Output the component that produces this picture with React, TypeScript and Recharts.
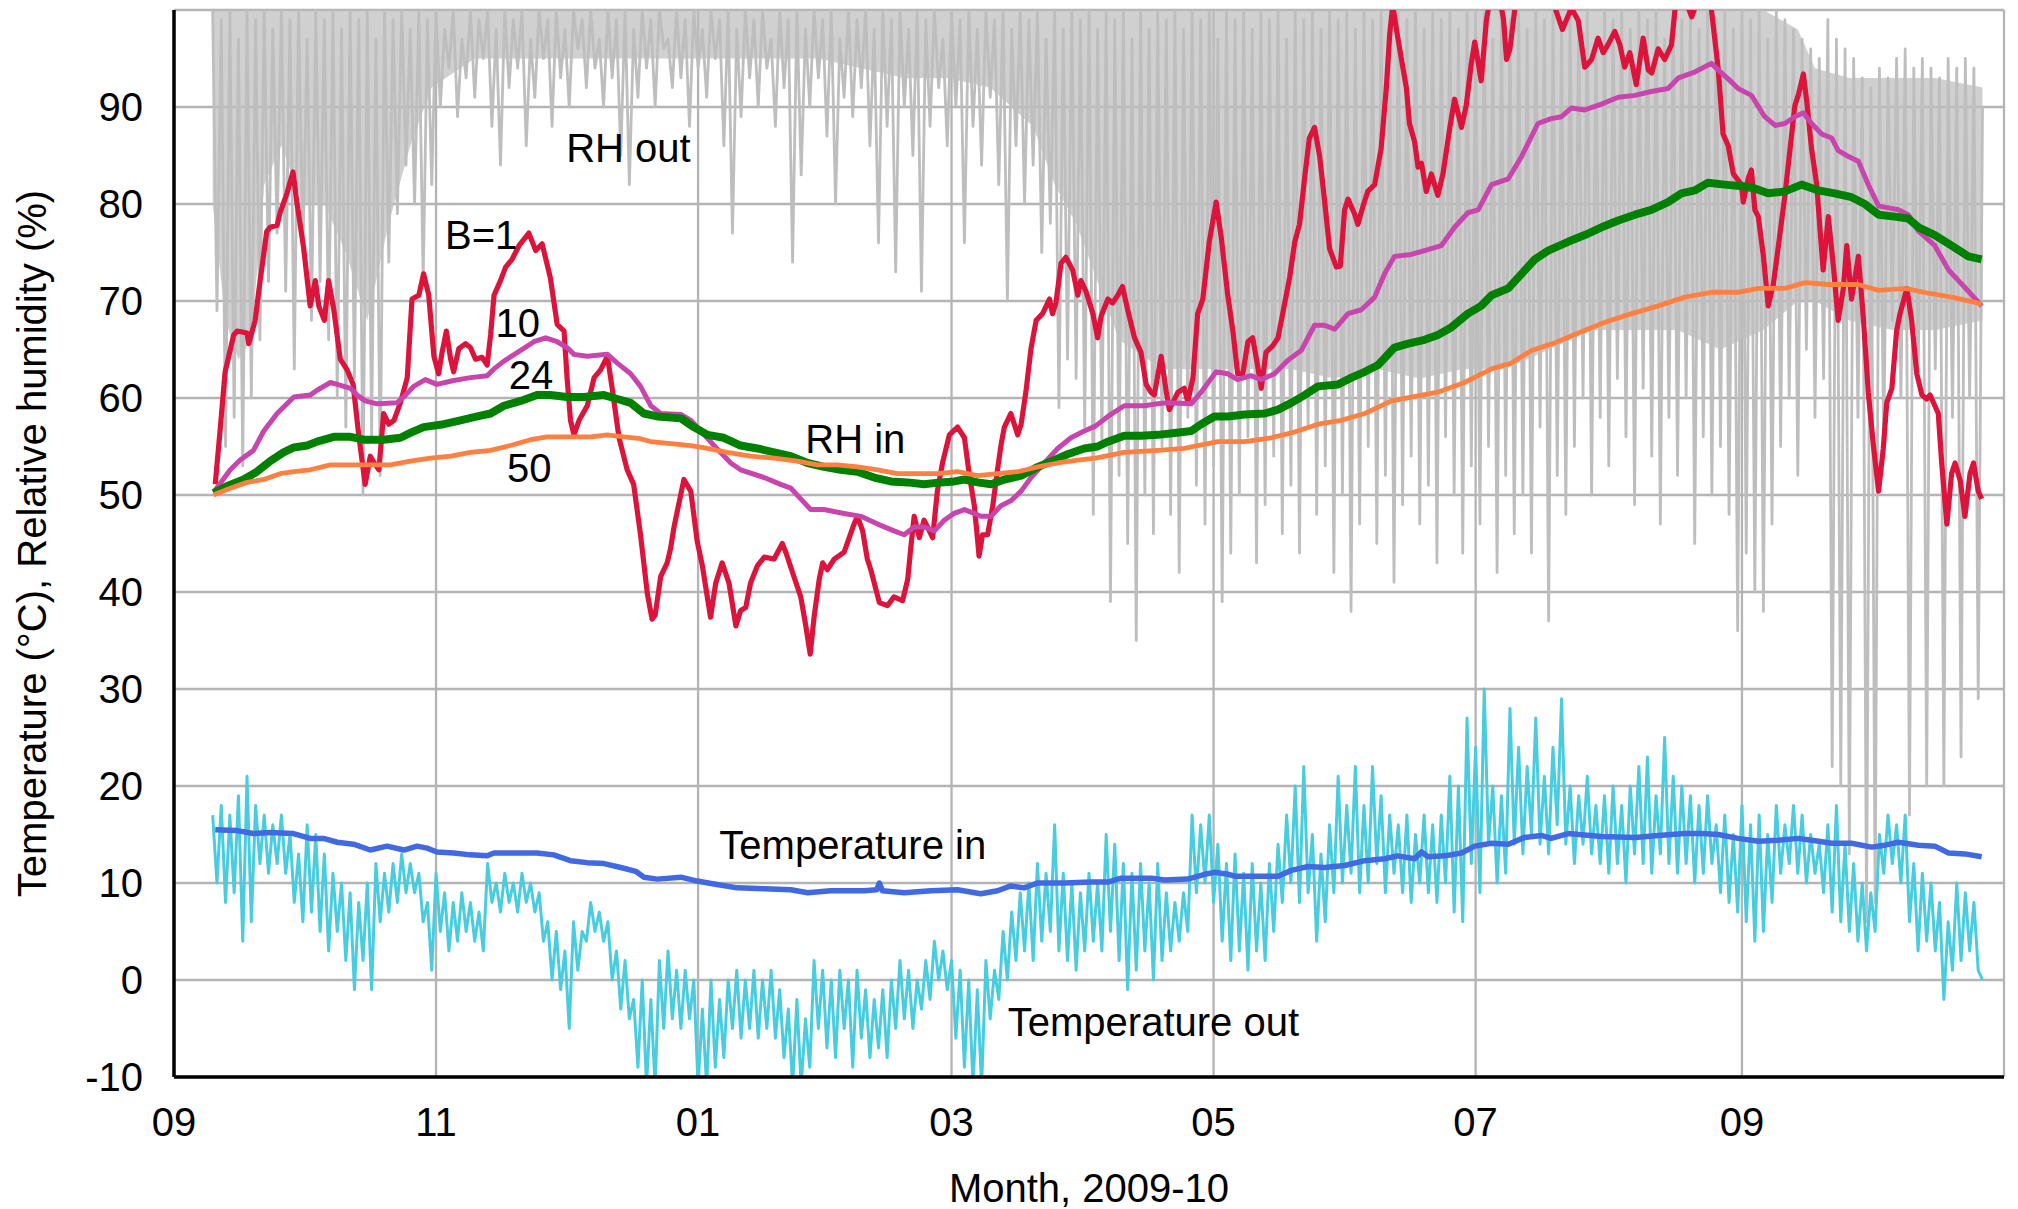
import React from 'react';
import { ComposedChart, Line, Area, XAxis, YAxis, CartesianGrid, ReferenceDot, Label } from 'recharts';

const FONT = '"Liberation Sans", Arial, Helvetica, sans-serif';

// x axis: days since 2009-09-01
const MONTH_TICKS = [0, 61, 122, 181, 242, 303, 365];
const MONTH_LABELS = ['09', '11', '01', '03', '05', '07', '09'];
const X_DOMAIN: [number, number] = [0, 426];
const VALUE_TICKS = [-10, 0, 10, 20, 30, 40, 50, 60, 70, 80, 90];
const Y_DOMAIN: [number, number] = [-10, 100];

// Outdoor relative humidity (daily alternating highs / lows), first value at day 9
const RH_OUT_FIRST_DAY = 9;
const RH_OUT = [
  100, 69, 99, 55, 100, 58, 97, 53, 100, 60,
  99, 66, 100, 72, 98, 77, 100, 71, 99, 63,
  100, 75, 97, 68, 100, 72, 99, 66, 100, 60,
  98, 57, 100, 62, 99, 50, 100, 56, 97, 52,
  100, 74, 99, 79, 100, 84, 98, 80, 100, 72,
  99, 82, 100, 90, 98, 94, 100, 89, 97, 93,
  100, 91, 99, 95, 100, 88, 98, 84, 100, 92,
  99, 94, 100, 86, 97, 91, 100, 95, 99, 88,
  100, 93, 98, 90, 100, 96, 99, 92, 100, 94,
  97, 90, 100, 93, 99, 85, 100, 82, 98, 91,
  100, 94, 99, 90, 100, 96, 97, 92, 100, 93,
  99, 88, 100, 94, 98, 91, 100, 95, 99, 86,
  100, 77, 98, 89, 100, 93, 99, 90, 100, 94,
  97, 88, 100, 92, 99, 74, 100, 83, 98, 90,
  100, 93, 99, 87, 100, 80, 97, 91, 100, 89,
  99, 92, 100, 86, 98, 76, 100, 88, 99, 73,
  100, 90, 98, 85, 100, 71, 99, 88, 100, 92,
  97, 86, 100, 90, 99, 76, 100, 88, 98, 84,
  100, 91, 99, 82, 100, 70, 98, 86, 100, 80,
  99, 84, 100, 75, 97, 78, 100, 59, 98, 64,
  100, 62, 99, 57, 100, 48, 98, 55, 100, 39,
  99, 52, 100, 45, 97, 35, 100, 50, 98, 46,
  100, 55, 99, 48, 100, 42, 98, 58, 100, 51,
  99, 47, 100, 53, 97, 39, 100, 44, 99, 50,
  100, 56, 98, 43, 100, 49, 99, 54, 100, 46,
  97, 51, 100, 44, 99, 57, 100, 48, 98, 53,
  100, 42, 99, 50, 100, 38, 98, 47, 100, 55,
  99, 45, 100, 52, 97, 41, 100, 49, 99, 54,
  100, 47, 98, 51, 100, 43, 99, 56, 100, 50,
  98, 44, 100, 53, 99, 47, 100, 55, 97, 42,
  100, 52, 99, 46, 100, 50, 98, 44, 100, 57,
  99, 37, 100, 52, 98, 48, 100, 55, 99, 60,
  100, 50, 97, 58, 100, 53, 99, 62, 100, 56,
  98, 49, 100, 61, 99, 54, 100, 47, 97, 58,
  100, 52, 99, 60, 100, 45, 98, 56, 100, 50,
  99, 55, 100, 48, 98, 36, 100, 44, 99, 40,
  100, 38, 97, 47, 100, 55, 99, 60, 98, 52,
  97, 65, 96, 58, 95, 62, 99, 22, 97, 20,
  96, 13, 95, 58, 93, 6, 92, 8, 94, 55,
  93, 68, 95, 60, 96, 17, 94, 62, 95, 20,
  94, 63, 93, 20, 95, 58, 94, 23, 95, 60,
  94, 29, 90,
];

// Dense (nearly solid) part of the outdoor RH trace: day, lower edge, upper edge
const RH_OUT_BAND_DAYS = [9, 12, 15, 18, 21, 25, 30, 35, 40, 45, 50, 55, 60, 70, 80, 90, 100, 110, 120, 130, 140, 150, 160, 170, 180, 190, 200, 205, 210, 215, 220, 230, 240, 250, 260, 270, 280, 290, 300, 310, 320, 330, 340, 350, 360, 370, 378, 382, 390, 400, 410, 421];
const RH_OUT_BAND_LO = [80, 68, 64, 66, 82, 86, 80, 80, 75, 68, 78, 86, 92, 95, 95, 95, 95, 95, 95, 95, 95, 95, 94, 93, 93, 92, 88, 82, 78, 72, 66, 63, 63, 63, 63, 62, 63, 62, 63, 63, 65, 67, 67, 67, 65, 67, 70, 70, 68, 67, 67, 68];
const RH_OUT_BAND_HI = [100, 100, 100, 100, 100, 100, 100, 100, 100, 100, 100, 100, 100, 100, 100, 100, 100, 100, 100, 100, 100, 100, 100, 100, 100, 100, 100, 100, 100, 100, 100, 100, 100, 100, 100, 100, 100, 100, 100, 100, 100, 100, 100, 100, 100, 100, 98, 94, 93, 93, 93, 92];

// Outdoor temperature (daily alternating highs / lows), first value at day 9
const T_OUT_FIRST_DAY = 9;
const T_OUT = [
  17, 10, 18, 8, 17, 9, 19, 4, 21, 6,
  18, 12, 17, 11, 16, 12, 17, 11, 15, 8,
  13, 6, 16, 7, 15, 5, 13, 3, 11, 5,
  10, 2, 9, -1, 8, 2, 10, -1, 12, 6,
  11, 7, 12, 8, 13, 9, 12, 9, 11, 6,
  8, 1, 11, 5, 9, 3, 8, 4, 9, 5,
  8, 4, 7, 3, 12, 8, 10, 7, 11, 8,
  10, 7, 11, 8, 10, 7, 9, 4, 6, 0,
  5, -1, 3, -5, 6, 1, 5, 4, 8, 5,
  7, 4, 6, 0, 3, -3, 2, -4, -2, -9,
  0, -11, -2, -11, 2, -5, 3, -4, 1, -5,
  1, -4, 0, -11, -3, -11, 0, -9, -2, -8,
  0, -5, 1, -6, 0, -5, 1, -6, 0, -5,
  1, -6, -1, -8, -3, -11, -2, -11, -4, -9,
  2, -5, 1, -7, 0, -8, 1, -5, 0, -9,
  1, -6, -1, -8, -2, -7, -1, -8, 0, -5,
  2, -4, 1, -5, 0, -3, 2, -2, 4, 0,
  3, -1, 2, -6, 1, -9, 0, -11, -1, -11,
  2, -4, 1, -2, 5, 0, 7, 2, 9, 3,
  10, 2, 12, 4, 11, 5, 16, 3, 11, 2,
  10, 1, 9, 3, 11, 4, 10, 3, 15, 5,
  14, 2, 12, -1, 11, 1, 12, 3, 10, 0,
  12, 2, 9, 3, 8, 4, 9, 5, 17, 9,
  16, 10, 17, 8, 14, 4, 12, 2, 13, 3,
  11, 1, 12, 3, 10, 2, 12, 5, 14, 8,
  17, 10, 20, 8, 22, 9, 15, 4, 13, 6,
  16, 9, 21, 10, 18, 11, 22, 9, 18, 10,
  22, 12, 19, 9, 17, 11, 16, 9, 17, 8,
  15, 10, 17, 9, 16, 8, 17, 10, 21, 7,
  20, 6, 27, 12, 24, 9, 30, 14, 20, 10,
  19, 11, 28, 14, 24, 13, 22, 15, 27, 14,
  21, 13, 24, 16, 29, 14, 20, 12, 19, 14,
  21, 13, 18, 12, 19, 11, 20, 12, 18, 10,
  20, 13, 22, 12, 23, 11, 19, 13, 25, 12,
  21, 11, 20, 12, 19, 10, 18, 11, 19, 12,
  16, 9, 17, 8, 15, 7, 18, 6, 16, 4,
  17, 5, 15, 8, 18, 11, 16, 12, 18, 11,
  17, 10, 15, 11, 14, 9, 16, 7, 18, 6,
  14, 5, 12, 4, 10, 3, 9, 5, 15, 11,
  17, 12, 16, 10, 17, 6, 12, 3, 11, 4,
  10, 3, 8, -2, 6, 1, 10, 2, 9, 3,
  8, 1, 0,
];

// Indoor RH, averaging B=1 : [day, %]
const RH_IN_B1: [number, number][] = [
  [9.6, 51.1], [10.8, 57.0], [11.9, 62.7], [13.9, 66.5], [14.7, 66.9], [17.0, 66.7], [17.4, 65.6], [18.9, 68.0],
  [19.7, 70.9], [21.6, 77.2], [22.4, 77.6], [24.0, 77.8], [24.7, 79.1], [26.3, 81.1], [27.7, 83.3], [28.6, 80.2],
  [30.2, 75.4], [31.7, 69.5], [32.9, 72.1], [33.7, 69.5], [35.0, 68.0], [36.0, 72.1], [37.2, 69.1], [38.7, 64.0],
  [40.3, 62.9], [41.7, 61.4], [43.0, 56.2], [44.5, 51.1], [45.7, 54.0], [46.6, 53.3], [47.7, 52.6], [48.8, 58.4],
  [50.0, 57.3], [51.2, 57.7], [52.7, 59.5], [54.3, 62.1], [55.4, 70.2], [57.0, 70.6], [58.1, 72.8], [59.3, 70.6],
  [60.5, 64.3], [61.6, 62.5], [62.4, 64.7], [63.4, 66.9], [64.4, 64.0], [65.1, 62.7], [66.3, 65.1], [67.9, 65.6],
  [69.0, 65.2], [70.2, 64.0], [71.7, 64.2], [72.9, 63.4], [73.7, 66.5], [74.5, 70.6], [76.0, 72.1], [77.2, 73.5],
  [78.7, 74.3], [80.3, 75.7], [82.6, 77.0], [84.2, 75.2], [85.7, 75.9], [87.6, 72.4], [89.2, 67.6], [90.8, 66.9],
  [91.5, 62.1], [92.3, 57.7], [93.1, 56.2], [94.3, 57.7], [96.2, 59.2], [97.8, 62.1], [99.3, 62.9], [100.9, 64.3],
  [102.0, 61.0], [103.6, 55.9], [105.5, 52.6], [107.0, 51.1], [108.6, 45.9], [110.2, 39.8], [111.3, 37.2], [112.0, 37.6],
  [113.3, 41.6], [114.8, 43.0], [115.6, 44.5], [116.4, 46.7], [118.7, 51.6], [120.3, 50.4], [121.8, 45.2], [123.0, 42.7],
  [124.9, 37.4], [126.1, 40.9], [127.6, 43.0], [129.2, 40.9], [130.8, 36.5], [131.9, 38.1], [133.1, 38.4], [134.2, 40.9],
  [135.8, 42.7], [137.4, 43.6], [139.7, 43.4], [141.6, 45.0], [142.5, 44.0], [144.3, 41.6], [145.9, 39.5], [147.0, 36.7],
  [148.1, 33.6], [149.0, 37.4], [150.2, 41.3], [151.0, 43.0], [152.1, 42.3], [153.7, 43.4], [156.0, 44.1], [158.3, 47.0],
  [159.1, 47.8], [160.3, 46.3], [161.4, 43.4], [162.2, 42.3], [164.2, 38.9], [166.1, 38.6], [167.6, 39.5], [169.6, 39.1],
  [170.8, 41.3], [171.5, 44.5], [172.3, 47.8], [173.5, 45.6], [174.6, 47.4], [175.4, 46.7], [176.6, 45.6], [177.7, 50.4],
  [178.9, 53.3], [180.5, 56.2], [182.4, 57.0], [184.0, 55.9], [185.1, 52.2], [186.3, 48.9], [187.1, 45.2], [187.4, 43.7],
  [188.2, 45.9], [189.4, 45.9], [190.6, 48.9], [191.7, 52.6], [192.5, 55.1], [193.3, 57.0], [194.8, 58.4], [196.4, 56.2],
  [197.2, 57.3], [198.3, 60.6], [199.5, 65.1], [200.7, 68.0], [202.2, 68.7], [203.8, 70.2], [204.5, 68.7], [205.3, 69.8],
  [206.5, 73.9], [207.6, 74.5], [209.2, 73.2], [210.4, 70.6], [211.1, 72.1], [212.3, 71.0], [213.9, 68.7], [215.0, 66.2],
  [215.8, 68.4], [217.4, 70.2], [218.5, 69.8], [219.7, 70.6], [220.8, 71.5], [222.0, 69.1], [223.6, 66.2], [225.1, 64.7],
  [226.3, 61.4], [227.4, 60.6], [228.2, 60.3], [229.8, 64.3], [231.0, 60.6], [231.7, 58.8], [233.7, 60.6], [235.2, 61.0],
  [236.0, 59.6], [237.2, 62.1], [238.3, 68.7], [239.5, 70.2], [241.0, 76.1], [242.6, 80.2], [243.8, 76.5], [245.3, 70.6],
  [246.5, 66.9], [247.6, 62.5], [248.8, 62.5], [250.0, 65.8], [251.1, 66.2], [252.3, 63.2], [253.1, 61.0], [254.2, 64.7],
  [255.8, 65.4], [257.0, 66.2], [258.1, 68.7], [259.7, 72.4], [260.9, 76.1], [262.0, 77.9], [263.2, 82.7], [264.3, 86.8],
  [265.5, 87.9], [266.7, 84.9], [267.8, 80.5], [269.0, 75.4], [270.6, 73.5], [271.5, 73.6], [272.5, 79.4], [273.3, 80.5],
  [274.8, 79.0], [275.6, 77.9], [276.8, 79.8], [277.9, 81.3], [279.5, 82.0], [281.0, 85.7], [282.2, 91.9], [283.0, 97.5],
  [283.7, 100.5], [284.9, 97.1], [286.9, 91.9], [287.6, 88.3], [288.8, 86.4], [289.6, 83.8], [290.4, 84.2], [291.5, 81.3],
  [292.7, 83.1], [294.2, 80.9], [295.4, 83.1], [297.0, 87.9], [298.1, 90.8], [298.9, 89.4], [299.7, 87.9], [300.8, 90.1],
  [302.0, 94.5], [302.8, 96.7], [304.3, 92.7], [305.5, 98.9], [306.5, 101.5], [308.5, 101.5], [309.5, 99.0], [310.2, 94.9],
  [311.0, 96.0], [312.1, 100.0], [313.5, 102.5], [316.5, 103.0], [319.5, 102.0], [321.5, 100.2], [323.2, 98.0], [325.3, 100.2],
  [326.9, 98.9], [328.4, 94.1], [330.0, 94.9], [331.5, 97.1], [332.7, 95.6], [333.8, 96.4], [335.4, 97.8], [336.6, 96.4],
  [337.7, 94.1], [338.9, 95.6], [340.4, 92.3], [342.0, 97.1], [343.2, 93.8], [344.0, 93.5], [345.5, 96.0], [347.0, 94.9],
  [348.6, 96.4], [349.4, 100.0], [351.0, 102.0], [353.3, 99.3], [355.5, 102.0], [357.9, 100.0], [359.5, 93.8], [360.6, 87.2],
  [361.8, 86.0], [363.0, 83.1], [364.9, 82.0], [365.3, 80.2], [366.5, 82.7], [367.2, 83.5], [368.0, 79.4], [368.8, 78.7],
  [370.0, 74.6], [371.1, 69.5], [372.3, 71.7], [373.4, 75.4], [375.0, 80.9], [376.2, 85.7], [377.3, 90.1], [378.1, 91.2],
  [379.3, 93.4], [380.1, 90.5], [381.2, 85.7], [382.4, 82.0], [383.2, 77.2], [383.9, 73.2], [385.1, 78.7], [386.3, 73.5],
  [387.4, 68.0], [388.6, 71.3], [389.4, 75.7], [390.5, 70.2], [392.1, 74.6], [393.3, 68.0], [394.4, 60.6], [395.6, 55.1],
  [396.8, 50.4], [397.9, 54.8], [398.7, 59.5], [399.9, 61.0], [401.0, 66.9], [401.8, 68.7], [403.4, 71.3], [404.5, 68.0],
  [405.7, 62.5], [406.9, 60.3], [408.0, 59.9], [408.8, 60.3], [409.9, 59.2], [410.7, 58.4], [411.5, 53.3], [412.7, 47.0],
  [413.8, 52.2], [414.6, 53.3], [415.8, 51.5], [416.9, 47.8], [418.1, 52.2], [418.9, 53.3], [420.0, 50.4], [420.8, 49.6],
];

// Indoor RH, B=10
const RH_IN_B10: [number, number][] = [
  [9.6, 50.5], [13.1, 52.6], [15.4, 53.6], [18.5, 54.6], [20.9, 56.6], [24.0, 58.4], [27.9, 60.1], [31.7, 60.3],
  [33.3, 60.8], [36.4, 61.6], [38.0, 61.4], [41.1, 61.0], [42.6, 60.3], [44.5, 59.7], [47.3, 59.4], [51.9, 59.5],
  [53.9, 60.3], [55.8, 61.2], [58.5, 61.9], [61.2, 61.4], [65.1, 61.8], [69.0, 62.1], [72.9, 62.3], [74.5, 63.0],
  [76.8, 63.8], [80.7, 64.9], [83.8, 65.8], [86.5, 66.2], [89.2, 65.8], [91.5, 65.2], [93.1, 64.5], [96.2, 64.3],
  [100.9, 64.5], [103.2, 63.6], [106.3, 62.5], [108.6, 61.2], [111.0, 59.2], [113.3, 58.4], [118.0, 58.3], [120.3, 57.7],
  [121.8, 57.0], [125.7, 55.1], [129.6, 53.3], [131.9, 52.6], [137.4, 51.8], [141.2, 51.1], [143.6, 50.7], [145.9, 49.6],
  [148.2, 48.5], [151.3, 48.5], [156.0, 48.1], [159.9, 47.8], [163.8, 47.0], [167.6, 46.3], [170.0, 45.9], [172.3, 46.7],
  [174.6, 46.7], [177.0, 46.3], [179.3, 47.4], [181.6, 48.1], [184.0, 48.5], [186.3, 48.1], [187.8, 47.8], [190.2, 47.8],
  [192.5, 48.9], [194.8, 49.4], [197.2, 50.4], [199.5, 51.8], [202.6, 53.3], [205.7, 54.8], [208.8, 55.9], [211.9, 56.6],
  [214.5, 57.1], [217.4, 58.1], [221.2, 59.2], [225.9, 59.2], [229.0, 59.4], [231.3, 59.5], [236.8, 59.4], [239.1, 60.6],
  [242.6, 62.7], [245.3, 62.5], [247.6, 61.9], [250.7, 62.3], [253.1, 61.9], [256.2, 62.5], [259.3, 63.9], [262.4, 64.9],
  [265.5, 67.5], [267.8, 67.5], [270.2, 67.1], [273.3, 68.7], [276.4, 69.1], [279.5, 70.4], [281.8, 72.8], [284.1, 74.6],
  [288.0, 74.8], [291.1, 75.2], [295.0, 75.7], [298.1, 77.6], [301.2, 79.1], [303.6, 79.4], [306.7, 82.0], [310.6, 82.6],
  [313.7, 84.9], [317.5, 88.3], [320.6, 88.8], [323.0, 89.0], [325.3, 89.9], [328.4, 89.7], [332.3, 90.3], [336.2, 91.0],
  [340.1, 91.2], [343.9, 91.6], [347.8, 91.9], [350.2, 93.0], [354.0, 93.6], [357.9, 94.5], [359.5, 93.8], [361.8, 92.9],
  [364.1, 91.9], [367.2, 91.2], [370.3, 89.0], [372.7, 88.1], [375.0, 88.3], [377.3, 89.0], [379.3, 89.4], [381.2, 88.3],
  [383.6, 87.2], [385.9, 86.8], [387.4, 85.5], [389.8, 84.9], [392.1, 84.4], [394.4, 82.0], [396.8, 79.8], [399.1, 79.6],
  [401.4, 79.4], [403.7, 78.9], [406.1, 77.2], [409.9, 75.7], [413.1, 73.2], [415.4, 72.1], [417.7, 71.0], [420.8, 69.5],
];

// Indoor RH, B=24
const RH_IN_B24: [number, number][] = [
  [9.2, 50.2], [12.3, 50.9], [16.2, 51.6], [19.3, 52.4], [22.4, 53.5], [25.5, 54.4], [27.9, 54.9], [31.0, 55.1],
  [33.3, 55.5], [37.2, 56.0], [41.1, 56.0], [44.2, 55.7], [48.8, 55.7], [52.7, 55.9], [55.0, 56.4], [58.1, 57.0],
  [62.8, 57.3], [66.7, 57.7], [70.6, 58.1], [73.7, 58.4], [76.8, 59.2], [80.7, 59.7], [84.5, 60.3], [87.6, 60.3],
  [91.5, 60.1], [95.4, 60.1], [100.1, 60.3], [103.2, 59.9], [106.3, 59.5], [109.4, 58.4], [112.5, 58.1], [118.0, 57.9],
  [121.0, 57.0], [124.2, 56.2], [128.0, 55.9], [131.9, 55.1], [135.8, 54.8], [139.7, 54.4], [143.6, 54.0], [147.5, 53.3],
  [151.3, 52.9], [155.2, 52.6], [159.1, 52.4], [163.0, 51.8], [166.9, 51.4], [170.8, 51.3], [174.6, 51.1], [178.5, 51.3],
  [181.6, 51.4], [184.0, 51.6], [187.1, 51.3], [190.2, 51.1], [193.3, 51.6], [197.2, 52.0], [201.1, 52.9], [204.9, 53.6],
  [208.0, 54.2], [211.9, 54.8], [215.0, 55.0], [217.4, 55.5], [221.2, 56.1], [225.1, 56.1], [229.0, 56.2], [232.9, 56.4],
  [236.8, 56.6], [239.1, 57.3], [242.2, 58.1], [245.3, 58.1], [249.2, 58.3], [253.9, 58.4], [257.0, 58.8], [260.1, 59.5],
  [263.2, 60.3], [266.3, 61.2], [271.0, 61.4], [274.1, 62.1], [277.2, 62.7], [280.3, 63.4], [284.1, 65.2], [287.3, 65.6],
  [291.1, 66.0], [294.2, 66.5], [297.4, 67.3], [301.2, 68.7], [304.3, 69.5], [306.7, 70.6], [310.6, 71.3], [313.7, 72.8],
  [316.8, 74.3], [319.9, 75.2], [324.5, 76.1], [328.4, 76.8], [332.3, 77.6], [336.2, 78.3], [340.1, 78.9], [343.9, 79.4],
  [347.8, 80.2], [350.9, 81.1], [354.0, 81.4], [357.1, 82.2], [361.0, 82.0], [365.7, 81.8], [368.0, 81.6], [371.1, 81.1],
  [375.0, 81.3], [378.9, 82.0], [382.8, 81.4], [386.6, 81.1], [390.5, 80.7], [393.6, 80.0], [396.8, 78.9], [400.6, 78.7],
  [403.7, 78.5], [406.1, 77.6], [409.9, 76.8], [413.8, 75.7], [417.7, 74.6], [420.8, 74.3],
];

// Indoor RH, B=50
const RH_IN_B50: [number, number][] = [
  [9.2, 50.0], [13.1, 50.7], [17.0, 51.3], [20.9, 51.6], [24.7, 52.2], [27.9, 52.4], [31.7, 52.6], [36.4, 53.1],
  [41.1, 53.1], [45.7, 53.1], [50.4, 53.1], [55.0, 53.5], [59.7, 53.8], [64.4, 54.0], [69.0, 54.4], [73.7, 54.6],
  [78.3, 55.1], [83.0, 55.7], [86.9, 56.0], [92.3, 56.0], [97.0, 56.0], [100.9, 56.2], [104.7, 56.0], [108.6, 55.8],
  [111.0, 55.5], [115.6, 55.3], [120.3, 55.1], [124.2, 54.8], [128.8, 54.4], [134.2, 54.0], [139.7, 53.8], [145.1, 53.5],
  [149.8, 53.1], [154.4, 53.1], [159.1, 52.9], [163.8, 52.6], [168.4, 52.2], [173.1, 52.2], [177.7, 52.2], [182.4, 52.4],
  [187.1, 52.0], [191.7, 52.2], [196.4, 52.4], [201.1, 52.9], [205.7, 53.3], [210.4, 53.6], [214.5, 53.8], [221.2, 54.4],
  [229.0, 54.6], [235.2, 54.8], [238.3, 55.1], [243.0, 55.5], [249.2, 55.5], [255.4, 55.9], [260.1, 56.4], [266.3, 57.3],
  [271.7, 57.7], [277.2, 58.4], [283.4, 59.7], [288.0, 60.1], [294.2, 60.6], [300.4, 61.6], [306.7, 63.0], [311.3, 63.6],
  [316.0, 64.9], [321.5, 65.7], [326.9, 66.7], [333.1, 67.8], [339.3, 68.7], [345.5, 69.5], [351.7, 70.4], [357.9, 70.9],
  [364.1, 70.9], [368.8, 71.3], [375.0, 71.3], [379.7, 71.9], [385.1, 71.7], [392.1, 71.7], [396.8, 71.1], [403.0, 71.3],
  [408.4, 70.8], [413.8, 70.4], [420.8, 69.7],
];

// Indoor temperature
const T_IN: [number, number][] = [
  [9.6, 15.5], [14.7, 15.4], [18.5, 15.1], [22.4, 15.2], [27.8, 15.1], [31.7, 14.6], [34.8, 14.6], [38.0, 14.2],
  [41.8, 14.0], [45.7, 13.4], [49.6, 13.8], [53.5, 13.4], [56.6, 13.8], [58.9, 13.6], [61.2, 13.2], [65.1, 13.1],
  [69.0, 12.9], [72.9, 12.8], [74.5, 13.1], [79.1, 13.1], [84.5, 13.1], [88.4, 12.9], [92.3, 12.3], [96.2, 12.1],
  [100.1, 12.0], [104.0, 11.6], [107.5, 11.2], [109.4, 10.6], [112.5, 10.4], [118.0, 10.6], [121.8, 10.2], [125.7, 9.9],
  [131.1, 9.5], [137.4, 9.4], [143.6, 9.3], [147.5, 9.0], [152.9, 9.2], [160.7, 9.2], [163.6, 9.3], [164.2, 10.0],
  [164.9, 9.2], [170.0, 9.0], [176.2, 9.2], [182.4, 9.3], [187.8, 8.9], [191.7, 9.2], [194.8, 9.7], [197.9, 9.5],
  [201.0, 10.0], [207.3, 10.0], [213.5, 10.1], [217.4, 10.1], [220.5, 10.5], [227.5, 10.5], [230.6, 10.3], [236.0, 10.4],
  [239.9, 10.9], [242.2, 11.1], [245.3, 10.9], [246.9, 10.7], [252.3, 10.7], [257.0, 10.7], [260.1, 11.3], [264.0, 11.7],
  [267.8, 11.6], [272.5, 11.8], [277.2, 12.3], [281.8, 12.5], [284.9, 12.8], [288.8, 12.5], [290.4, 13.2], [291.9, 12.7],
  [295.8, 12.8], [299.7, 13.1], [302.8, 13.8], [306.7, 14.1], [310.6, 14.0], [314.4, 14.7], [318.3, 14.9], [320.6, 14.6],
  [324.5, 15.1], [332.3, 14.8], [340.1, 14.7], [345.5, 14.9], [351.7, 15.1], [355.6, 15.1], [359.5, 15.0], [364.1, 14.6],
  [368.8, 14.3], [373.4, 14.4], [378.1, 14.6], [382.8, 14.3], [385.9, 14.1], [390.5, 14.1], [395.2, 13.7], [398.3, 13.9],
  [401.4, 14.2], [406.1, 13.9], [409.9, 13.8], [413.1, 13.1], [416.9, 13.0], [420.8, 12.7],
];

// In-plot annotations (text, day, value at text centre)
const ANN_TEXT = ['RH out', 'B=1', '10', '24', '50', 'RH in', 'Temperature in', 'Temperature out'];
const ANN_DAY = [105.8, 71.5, 80.0, 83.1, 82.7, 158.6, 158.0, 228.0];
const ANN_VALUE = [85.8, 76.8, 67.8, 62.4, 52.8, 55.8, 13.9, -4.3];

const COLORS = {
  rhOut: '#bebebe',
  tOut: '#48cde0',
  tIn: '#4169e1',
  b1: '#dc143c',
  b10: '#c845ae',
  b24: '#008000',
  b50: '#ff8040',
  grid: '#b4b4b4',
};

const pairsToRows = (pts: [number, number][]) => pts.map(([d, v]) => ({ d, v }));
const dailyToRows = (first: number, vals: number[]) => vals.map((v, i) => ({ d: first + i, v }));

const rhOutRows = dailyToRows(RH_OUT_FIRST_DAY, RH_OUT);
const rhOutBandRows = RH_OUT_BAND_DAYS.map((d, i) => ({ d, r: [RH_OUT_BAND_LO[i], RH_OUT_BAND_HI[i]] }));
const tOutRows = dailyToRows(T_OUT_FIRST_DAY, T_OUT);
const b1Rows = pairsToRows(RH_IN_B1);
const b10Rows = pairsToRows(RH_IN_B10);
const b24Rows = pairsToRows(RH_IN_B24);
const b50Rows = pairsToRows(RH_IN_B50);
const tInRows = pairsToRows(T_IN);

const fmtMonth = (v: number) => {
  const i = MONTH_TICKS.indexOf(v);
  return i >= 0 ? MONTH_LABELS[i] : '';
};

const YTitle = (props: any) => {
  const vb = props && props.viewBox && typeof props.viewBox.x === 'number'
    ? props.viewBox
    : { x: 0, y: 2, width: 166, height: 1067 };
  const cx = vb.x + 23.5;
  const cy = vb.y + vb.height / 2;
  return (
    <text
      x={cx}
      y={cy}
      transform={`rotate(-90 ${cx} ${cy})`}
      textAnchor="middle"
      dominantBaseline="central"
      fontSize={40}
      fontFamily={FONT}
      fill="#000"
    >
      Temperature (°C), Relative humidity (%)
    </text>
  );
};

const tickStyle = { fill: '#000', fontSize: 40, fontFamily: FONT };
const frameLine = { stroke: '#000', strokeWidth: 3.5 };
const innerTick = { stroke: '#000', strokeWidth: 2.5 };

export default function App() {
  const lineCommon = {
    xAxisId: 'x',
    yAxisId: 'y',
    dot: false,
    activeDot: false,
    isAnimationActive: false,
    type: 'linear' as const,
    dataKey: 'v',
    strokeLinejoin: 'round' as const,
  };
  return (
    <div style={{ width: 2002, height: 1201 }}>
      <ComposedChart width={2002} height={1201} margin={{ top: 2, right: 6, bottom: 0, left: 0 }}>
        {/* mirrored axes first: they only draw the inward tick marks and the frame */}
        <XAxis xAxisId="xb" orientation="bottom" mirror height={0} type="number" dataKey="d"
          domain={X_DOMAIN} ticks={MONTH_TICKS} interval={0} allowDataOverflow
          tick={false} tickSize={11} tickLine={innerTick} axisLine={false} />
        <XAxis xAxisId="xt" orientation="top" mirror height={0} type="number" dataKey="d"
          domain={X_DOMAIN} ticks={MONTH_TICKS} interval={0} allowDataOverflow
          tick={false} tickSize={11} tickLine={innerTick} axisLine={frameLine} />
        <YAxis yAxisId="yl" orientation="left" mirror width={0} type="number"
          domain={Y_DOMAIN} ticks={VALUE_TICKS} interval={0} allowDataOverflow
          tick={false} tickSize={11} tickLine={innerTick} axisLine={false} />
        <YAxis yAxisId="yr" orientation="right" mirror width={0} type="number"
          domain={Y_DOMAIN} ticks={VALUE_TICKS} interval={0} allowDataOverflow
          tick={false} tickSize={11} tickLine={innerTick} axisLine={frameLine} />

        <XAxis xAxisId="x" orientation="bottom" height={132} type="number" dataKey="d"
          domain={X_DOMAIN} ticks={MONTH_TICKS} interval={0} allowDataOverflow
          tickFormatter={fmtMonth} tick={tickStyle} tickLine={false} tickSize={0} tickMargin={31}
          axisLine={frameLine}
          label={<Label value="Month, 2009-10" position="insideBottom" offset={7}
            fill="#000" fontSize={40} fontFamily={FONT} />} />
        <YAxis yAxisId="y" orientation="left" width={166} type="number"
          domain={Y_DOMAIN} ticks={VALUE_TICKS} interval={0} allowDataOverflow
          tick={tickStyle} tickLine={false} tickSize={0} tickMargin={31}
          axisLine={frameLine}
          label={<Label content={YTitle} />} />

        <CartesianGrid xAxisId="x" yAxisId="y" stroke={COLORS.grid} strokeWidth={2.3} />

        <Area xAxisId="x" yAxisId="y" data={rhOutBandRows} dataKey="r" type="linear"
          stroke="none" fill={COLORS.rhOut} fillOpacity={0.72} dot={false} activeDot={false}
          isAnimationActive={false} />
        <Line {...lineCommon} data={rhOutRows} stroke={COLORS.rhOut} strokeWidth={2.8} />
        <Line {...lineCommon} data={tOutRows} stroke={COLORS.tOut} strokeWidth={3} />
        <Line {...lineCommon} data={tInRows} stroke={COLORS.tIn} strokeWidth={5.5} />
        <Line {...lineCommon} data={b1Rows} stroke={COLORS.b1} strokeWidth={5.2} />
        <Line {...lineCommon} data={b10Rows} stroke={COLORS.b10} strokeWidth={5} />
        <Line {...lineCommon} data={b24Rows} stroke={COLORS.b24} strokeWidth={8} />
        <Line {...lineCommon} data={b50Rows} stroke={COLORS.b50} strokeWidth={4.8} />

        {ANN_TEXT.map((t, i) => (
          <ReferenceDot key={t} xAxisId="x" yAxisId="y" x={ANN_DAY[i]} y={ANN_VALUE[i]} r={0}
            fill="none" stroke="none"
            label={{ value: t, position: 'center', fill: '#000', fontSize: 40, fontFamily: FONT }} />
        ))}
      </ComposedChart>
    </div>
  );
}
